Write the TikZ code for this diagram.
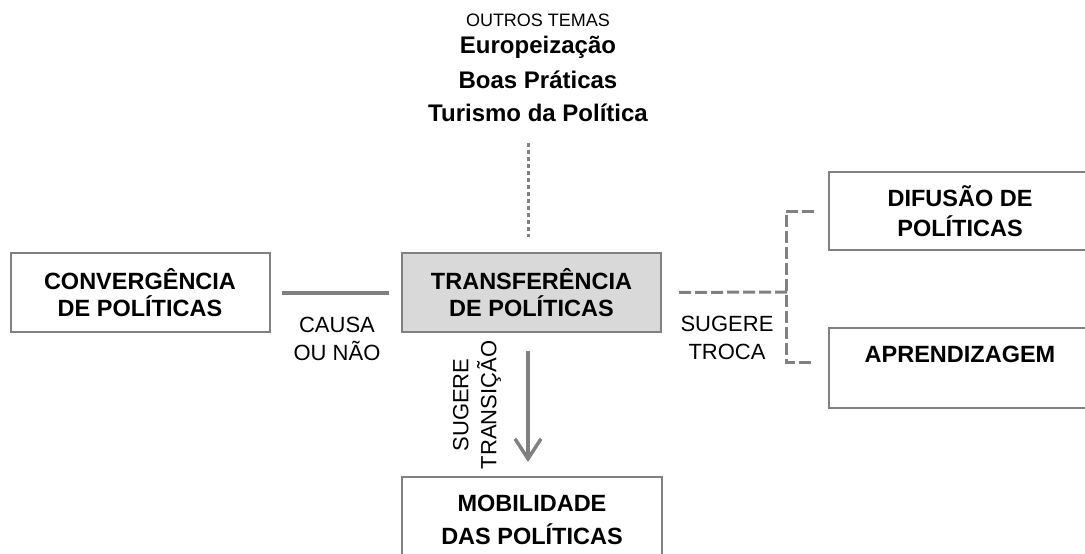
\documentclass[tikz,border=0pt]{standalone}
\usepackage{fontspec}
\setmainfont{Liberation Sans}
\usetikzlibrary{arrows.meta, positioning}
\definecolor{linha}{HTML}{808080}
\definecolor{fundo}{HTML}{D9D9D9}

\tikzset{
  caixa/.style={draw=linha, line width=2pt, minimum width=259pt, minimum height=79pt,
    align=center, font=\fontsize{23.5}{27}\selectfont\bfseries, inner sep=0pt},
  rotulo/.style={align=center, font=\fontsize{22}{28}\selectfont},
  tema/.style={font=\fontsize{24}{28}\selectfont\bfseries, inner sep=1pt},
  troca/.style={draw=linha, line width=3pt, dash pattern=on 12pt off 4pt}
}

\begin{document}
\begin{tikzpicture}[x=1pt, y=-1pt]
    \useasboundingbox (0,0) rectangle (1085,554);
    \clip (0,0) rectangle (1085,554);
    % outros temas
    \node[font=\fontsize{18}{20}\selectfont] (outros) at (538,20) {OUTROS TEMAS};
    \foreach \y/\lab [count=\i] in {47/Europeização, 80/Boas Práticas, 113/Turismo da Política}
      \node[tema] (tema\i) at (538,\y) {\lab};
    % caixas
    \node[caixa] (convergencia) at (140,292.5) {CONVERGÊNCIA\\DE POLÍTICAS};
    \node[caixa, fill=fundo] (transferencia) at (531.5,292.5) {TRANSFERÊNCIA\\DE POLÍTICAS};
    \node[caixa, minimum width=262pt, minimum height=78pt] (difusao) at (960,211) {DIFUSÃO DE\\[3pt]POLÍTICAS};
    \node[caixa, minimum width=262pt, minimum height=80pt] (aprendizagem) at (960,368) {APRENDIZAGEM\\~};
    \node[caixa, minimum width=260pt, minimum height=86pt] (mobilidade) at (532,520) {MOBILIDADE\\[6pt]DAS POLÍTICAS};
    % ligacoes
    \draw[linha, line width=4pt, shorten <=11pt, shorten >=12pt] (convergencia) -- (transferencia);
    \node[rotulo] (causa) at (337,339) {CAUSA\\OU NÃO};
    \coordinate (topo) at ([xshift=-3.5pt]transferencia.north);
    \draw[linha, line width=3pt, dash pattern=on 4pt off 3pt, shorten <=20pt, shorten >=15pt]
      (tema3.south -| topo) -- (topo);
    \coordinate (ramo) at (787,292);
    \draw[troca, shorten <=17pt] (transferencia.east) -- (ramo);
    \draw[troca] ([xshift=-14pt]difusao.west) -| ([xshift=-42pt, yshift=6pt]aprendizagem.west) -- +(28,0);
    \node[rotulo] (sugere) at (727,338) {SUGERE\\TROCA};
    \draw[linha, line width=3.5pt, -{Straight Barb[length=20pt, width=26pt, line width=3.5pt]},
      shorten <=18pt, shorten >=14pt] ([xshift=-3.5pt]transferencia.south) -- (mobilidade.north -| topo);
    \node[rotulo, rotate=90] (transicao) at (477,405) {SUGERE\\TRANSIÇÃO};
  \end{tikzpicture}
\end{document}
